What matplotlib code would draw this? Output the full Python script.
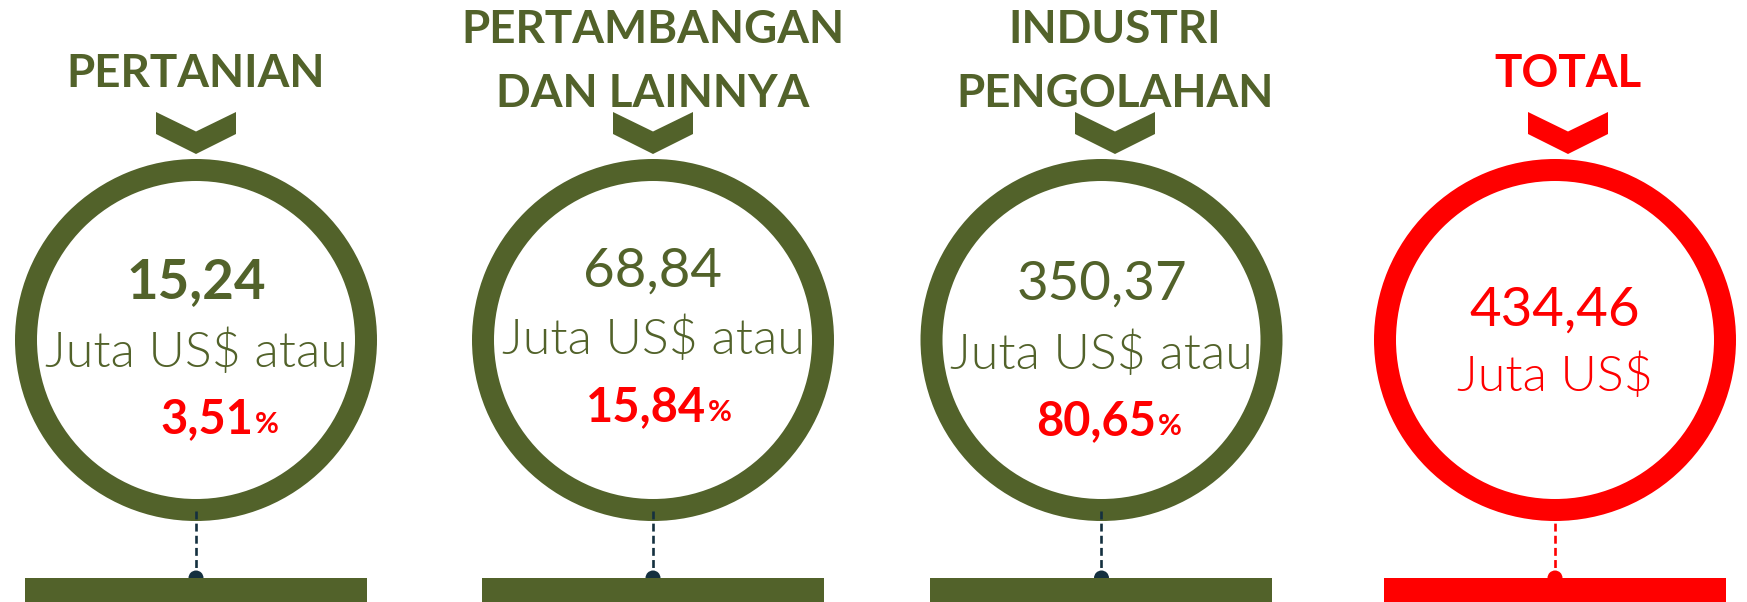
import matplotlib
matplotlib.use("Agg")
import matplotlib.pyplot as plt
from matplotlib.patches import Annulus, Polygon, Rectangle, Circle

# ---------------- data ----------------
title_line1 = ["PERTANIAN", "PERTAMBANGAN", "INDUSTRI", "TOTAL"]
title_line2 = ["", "DAN LAINNYA", "PENGOLAHAN", ""]
values = [15.24, 68.84, 350.37, 434.46]
shares = [3.51, 15.84, 80.65, None]
unit_labels = ["Juta US$ atau", "Juta US$ atau", "Juta US$ atau", "Juta US$"]

# ---------------- styles / layout ----------------
GREEN = "#52622A"
RED = "#FF0000"
NAVY = "#14303F"
panel_colors = [GREEN, GREEN, GREEN, RED]
link_colors = [NAVY, NAVY, NAVY, RED]
value_weights = ["bold", "normal", "normal", "normal"]
FONT = "Lato"
UNIT_WEIGHT = 300

W, H = 1747, 602
ring_cx = [196, 653, 1101.5, 1555]
title_cx = [196, 653, 1115, 1568]
pct_cx = [219.5, 659, 1109, None]
value_base = [298, 286.5, 300, 326]
unit_base = [367, 354, 369, 391]
pct_base = [433, 421, 435, None]
ring_cy, r_out, ring_w = 340, 181, 22

fig = plt.figure(figsize=(W / 100, H / 100), dpi=100)
ax = fig.add_axes([0, 0, 1, 1])
ax.set_xlim(0, W)
ax.set_ylim(H, 0)
ax.axis("off")
renderer = fig.canvas.get_renderer()


def text_w(s, size, **kw):
    t = ax.text(0, 0, s, fontsize=size, family=FONT, **kw)
    w = t.get_window_extent(renderer).width
    t.remove()
    return w


def fit(s, target, **kw):
    return 40 * target / text_w(s, 40, **kw)


fmt = lambda v: f"{v:.2f}".replace(".", ",")

title_fs = fit("PERTAMBANGAN", 384, weight="bold")
value_fs = fit("350,37", 171)
unit_fs = fit("Juta US$ atau", 302, weight=UNIT_WEIGHT)
pct_fs = fit("80,65", 120, weight="bold")
pctsign_fs = pct_fs * 0.62

for i in range(4):
    c = panel_colors[i]
    cx, tx = ring_cx[i], title_cx[i]
    # titles
    if title_line2[i]:
        ax.text(tx, 43, title_line1[i], ha="center", va="baseline", fontsize=title_fs,
                weight="bold", color=c, family=FONT)
        ax.text(tx, 107, title_line2[i], ha="center", va="baseline", fontsize=title_fs,
                weight="bold", color=c, family=FONT)
    else:
        ax.text(tx, 87, title_line1[i], ha="center", va="baseline", fontsize=title_fs,
                weight="bold", color=c, family=FONT)
    # chevron
    ax.add_patch(Polygon([(tx - 40, 112), (tx, 131.5), (tx + 40, 112), (tx + 40, 134),
                          (tx, 154), (tx - 40, 134)], closed=True, facecolor=c,
                         edgecolor="none"))
    # ring
    ax.add_patch(Annulus((cx, ring_cy), r_out, ring_w, facecolor=c, edgecolor="none"))
    # connector
    ax.plot([cx, cx], [511, 577], color=link_colors[i], lw=1.9,
            linestyle=(0, (3.0, 1.6)), zorder=2)
    ax.add_patch(Circle((cx, 578), 7.5, facecolor=link_colors[i], edgecolor="none", zorder=3))
    ax.add_patch(Rectangle((cx - 171, 578), 342, 30, facecolor=c, edgecolor="none", zorder=4))
    # value
    ax.text(cx, value_base[i], fmt(values[i]), ha="center", va="baseline", fontsize=value_fs,
            weight=value_weights[i], color=c, family=FONT)
    ax.text(cx, unit_base[i], unit_labels[i], ha="center", va="baseline", fontsize=unit_fs,
            weight=UNIT_WEIGHT, color=c, family=FONT)
    # share
    if shares[i] is not None:
        s = fmt(shares[i])
        wn = text_w(s, pct_fs, weight="bold")
        wp = text_w("%", pctsign_fs, weight="bold")
        gap = 2
        x0 = pct_cx[i] - (wn + gap + wp) / 2
        ax.text(x0, pct_base[i], s, ha="left", va="baseline", fontsize=pct_fs,
                weight="bold", color=RED, family=FONT)
        ax.text(x0 + wn + gap, pct_base[i], "%", ha="left", va="baseline",
                fontsize=pctsign_fs, weight="bold", color=RED, family=FONT)

fig.savefig("out.png", dpi=100, facecolor="white")
